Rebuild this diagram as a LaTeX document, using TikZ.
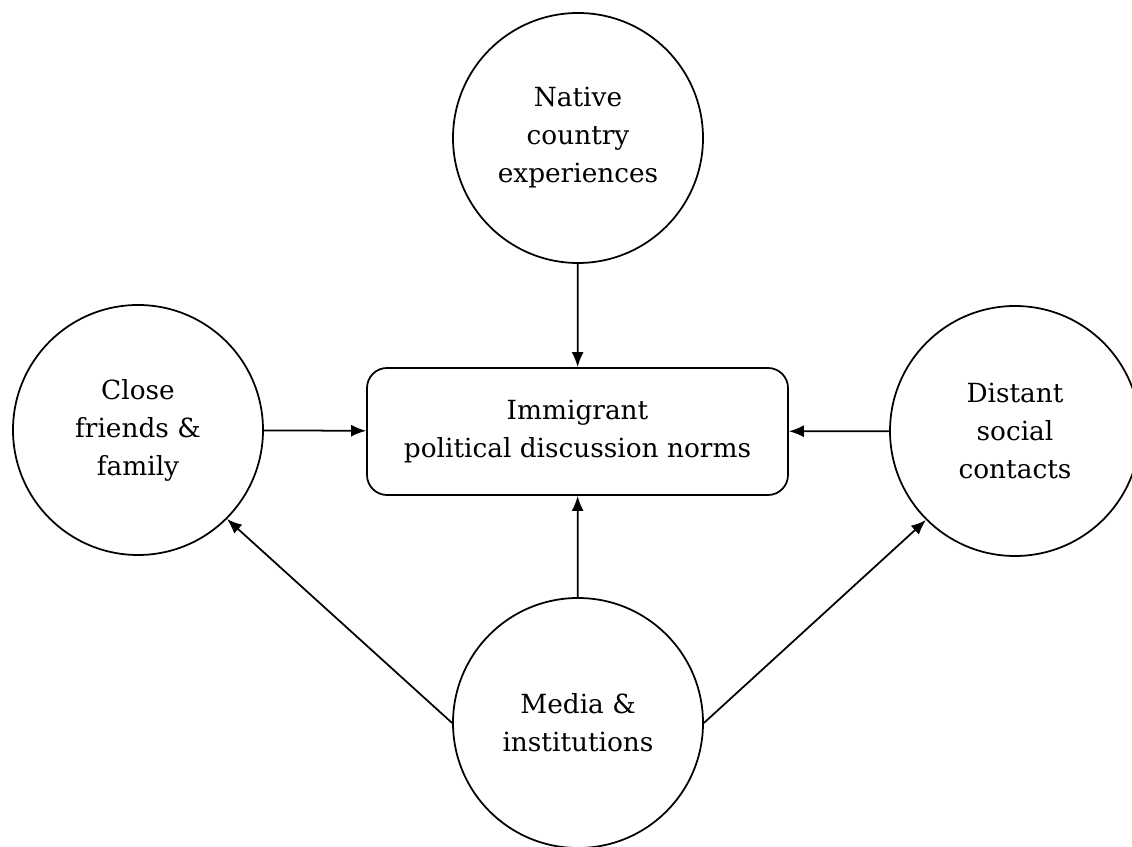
\documentclass[tikz,border=0pt]{standalone}
\usepackage{fontspec}
\setmainfont{DejaVu Serif}
\usetikzlibrary{arrows.meta}
\begin{document}
\begin{tikzpicture}[
    factor/.style={draw, line width=1pt, circle, minimum size=5cm, inner sep=0pt, align=center,
      font=\fontsize{15}{21.6}\selectfont},
    norms/.style={draw, line width=1pt, rounded corners=0.4cm, minimum width=8.42cm,
      minimum height=2.54cm, align=center, font=\fontsize{15}{21.6}\selectfont},
    arr/.style={line width=1pt, -{Latex[length=3mm,width=2.4mm]}}]
    \useasboundingbox (0,0) rectangle (22.64,16.92);
    % central box
    \node[norms] (norms) at (11.55,8.29) {Immigrant\\political discussion norms};
    % influences
    \node[factor] (native) at (11.56,14.16) {Native\\country\\experiences};
    \node[factor] (close) at (2.76,8.32) {Close\\friends \&\\family};
    \node[factor] (distant) at (20.3,8.3) {Distant\\social\\contacts};
    \node[factor] (media) at (11.56,2.46) {Media \&\\institutions};
    % arrows into the box
    \draw[arr] (native) -- (norms);
    \draw[arr] (close) -- (norms);
    \draw[arr] (distant) -- (norms);
    \draw[arr] (media) -- (norms);
    % media to the two circles
    \draw[arr] (media.west) -- (close.south east);
    \draw[arr] (media.east) -- (distant.south west);
\end{tikzpicture}
\end{document}
